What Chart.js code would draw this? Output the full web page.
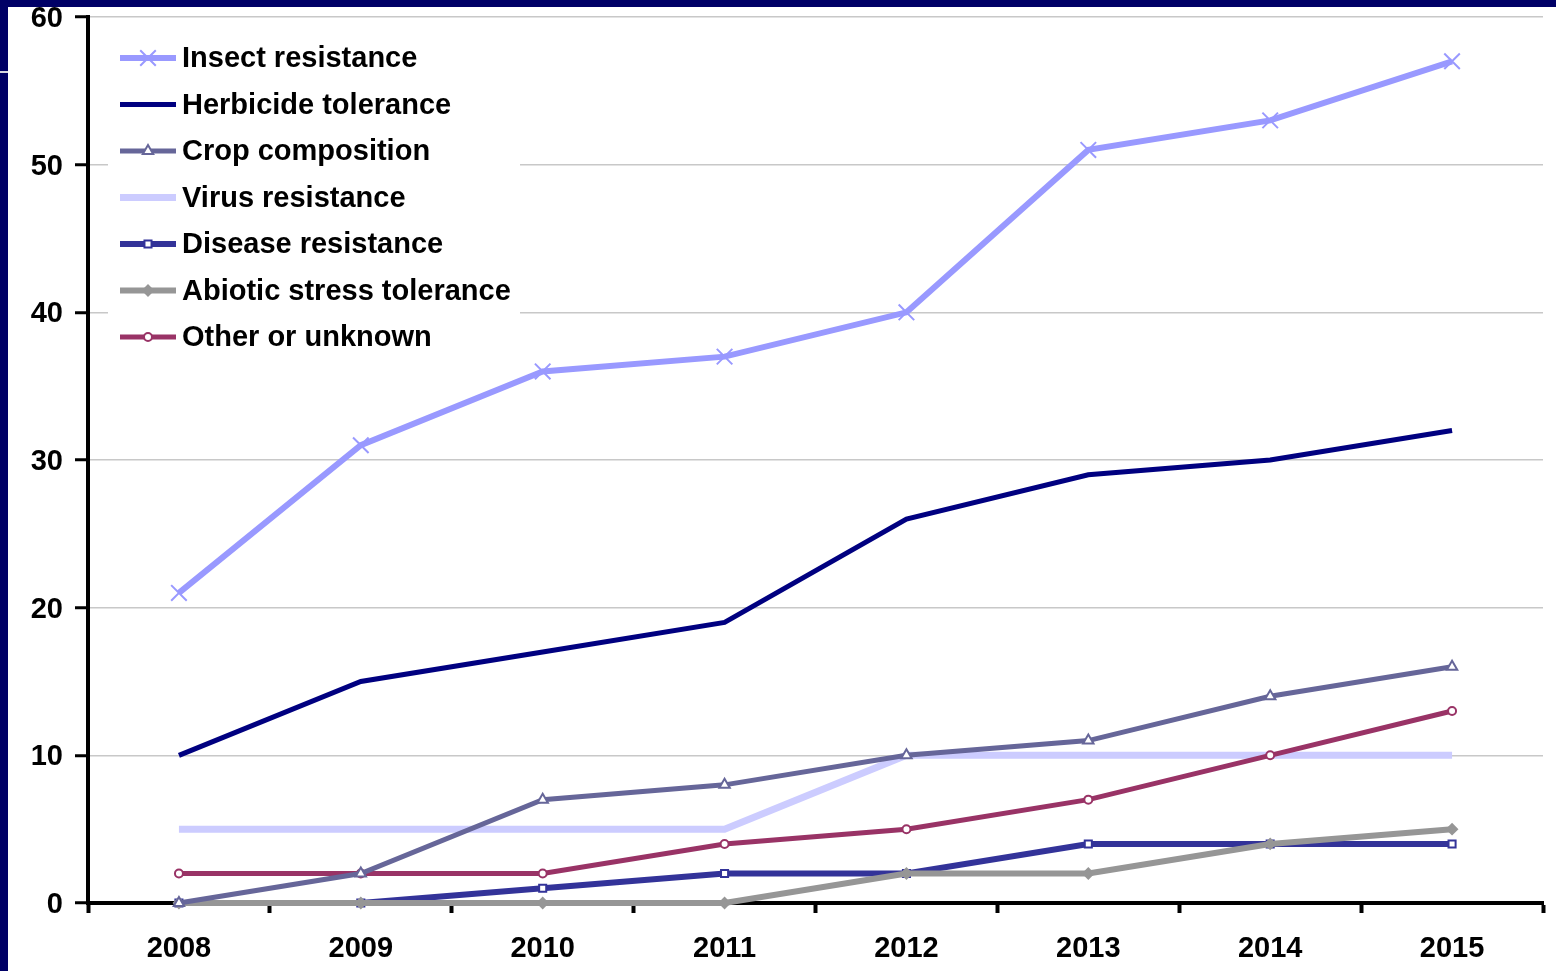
<!DOCTYPE html>
<html>
<head>
<meta charset="utf-8">
<script src="https://cdn.jsdelivr.net/npm/chart.js@4/dist/chart.umd.min.js"></script>
<style>
  html, body { margin: 0; padding: 0; background: #000066; }
  canvas { display: block; }
</style>
</head>
<body>
<canvas id="c" width="1556" height="971"></canvas>
<script>
// Number of GM events per trait, by year
const years = ['2008', '2009', '2010', '2011', '2012', '2013', '2014', '2015'];
const insectResistance    = [21, 31, 36, 37, 40, 51, 53, 57];
const herbicideTolerance  = [10, 15, 17, 19, 26, 29, 30, 32];
const cropComposition     = [0, 2, 7, 8, 10, 11, 14, 16];
const virusResistance     = [5, 5, 5, 5, 10, 10, 10, 10];
const diseaseResistance   = [0, 0, 1, 2, 2, 4, 4, 4];
const abioticStress       = [0, 0, 0, 0, 2, 2, 4, 5];
const otherOrUnknown      = [2, 2, 2, 4, 5, 7, 10, 13];
const yTicks = [0, 10, 20, 30, 40, 50, 60];

const FONT = '"Liberation Sans", Arial, sans-serif';

function series(label, data, color, width, style, radius, fill, order) {
  return {
    label, data,
    borderColor: color,
    backgroundColor: fill || color,
    borderWidth: width,
    pointStyle: style || false,
    pointRadius: style ? radius : 0,
    pointBorderColor: color,
    pointBackgroundColor: fill || color,
    pointBorderWidth: 2,
    tension: 0,
    clip: false,
    order: order
  };
}

const datasets = [
  series('Insect resistance', insectResistance, '#9999ff', 6, 'crossRot', 11, null, 0),
  series('Herbicide tolerance', herbicideTolerance, '#000080', 5, null, 0, null, 1),
  series('Crop composition', cropComposition, '#666699', 5, 'triangle', 6, '#ffffff', 2),
  series('Virus resistance', virusResistance, '#ccccff', 7, null, 0, null, 6),
  series('Disease resistance', diseaseResistance, '#333399', 6, 'rect', 5, '#ffffff', 5),
  series('Abiotic stress tolerance', abioticStress, '#969696', 6, 'rectRot', 5, null, 4),
  series('Other or unknown', otherOrUnknown, '#993366', 5, 'circle', 4, '#ffffff', 3)
];

// Slide frame: navy border with the white chart panel
const framePlugin = {
  id: 'frame',
  beforeDraw(chart) {
    const ctx = chart.ctx;
    ctx.save();
    ctx.fillStyle = '#000066';
    ctx.fillRect(0, 0, chart.width, chart.height);
    ctx.fillStyle = '#ffffff';
    ctx.fillRect(8, 7, chart.width - 8, chart.height - 7);
    ctx.fillStyle = '#d8d8e0';
    ctx.fillRect(0, 71, 8, 2);
    ctx.restore();
  }
};

// Legend panel in the upper-left of the plot
const legendPlugin = {
  id: 'boxLegend',
  beforeDatasetsDraw(chart) {
    const ctx = chart.ctx;
    ctx.save();
    ctx.fillStyle = '#ffffff';
    ctx.fillRect(108, 30, 412, 326);
    ctx.restore();
  },
  afterDatasetsDraw(chart) {
    const ctx = chart.ctx;
    const x0 = 120, x1 = 176, textX = 182, top = 58, step = 46.5;
    ctx.save();
    chart.data.datasets.forEach((ds, i) => {
      const y = top + i * step;
      ctx.strokeStyle = ds.borderColor;
      ctx.lineWidth = ds.borderWidth;
      ctx.lineCap = 'butt';
      ctx.beginPath();
      ctx.moveTo(x0, y);
      ctx.lineTo(x1, y);
      ctx.stroke();
      if (ds.pointStyle) {
        ctx.fillStyle = ds.pointBackgroundColor;
        ctx.strokeStyle = ds.pointBorderColor;
        ctx.lineWidth = ds.pointBorderWidth;
        Chart.helpers.drawPoint(ctx, {pointStyle: ds.pointStyle, radius: ds.pointRadius, rotation: 0, borderWidth: ds.pointBorderWidth}, (x0 + x1) / 2, y);
      }
      ctx.fillStyle = '#000000';
      ctx.font = 'bold 29px ' + FONT;
      ctx.textBaseline = 'middle';
      ctx.textAlign = 'left';
      ctx.fillText(ds.label, textX, y + 1);
    });
    ctx.restore();
  }
};

new Chart(document.getElementById('c'), {
  type: 'line',
  data: { labels: years, datasets },
  options: {
    responsive: false,
    animation: false,
    devicePixelRatio: 1,
    layout: { padding: { top: 17, right: 11, left: 0, bottom: 0 } },
    plugins: { legend: { display: false }, tooltip: { enabled: false } },
    scales: {
      x: {
        type: 'category',
        offset: true,
        grid: {
          offset: true,
          drawOnChartArea: false,
          drawTicks: true,
          tickLength: 10,
          tickWidth: 4,
          tickColor: '#000000'
        },
        border: { display: true, color: '#000000', width: 4 },
        ticks: {
          color: '#000000',
          font: { family: FONT, size: 29, weight: 'bold' },
          padding: 19,
          maxRotation: 0
        },
        afterFit(scale) {
          scale.height = 68;
          scale.paddingLeft = 0;
          scale.paddingRight = 0;
        }
      },
      y: {
        min: 0, max: 60,
        afterBuildTicks(scale) { scale.ticks = yTicks.map(v => ({ value: v })); },
        grid: {
          color: '#c8c8c8',
          lineWidth: 1.5,
          drawTicks: true,
          tickLength: 13,
          tickWidth: 3,
          tickColor: '#000000'
        },
        border: { display: true, color: '#000000', width: 4 },
        ticks: {
          color: '#000000',
          font: { family: FONT, size: 29, weight: 'bold' },
          padding: 12,
          labelOffset: 2
        },
        afterFit(scale) {
          scale.width = 88;
          scale.paddingTop = 0;
          scale.paddingBottom = 0;
        }
      }
    }
  },
  plugins: [framePlugin, legendPlugin]
});
</script>
</body>
</html>
